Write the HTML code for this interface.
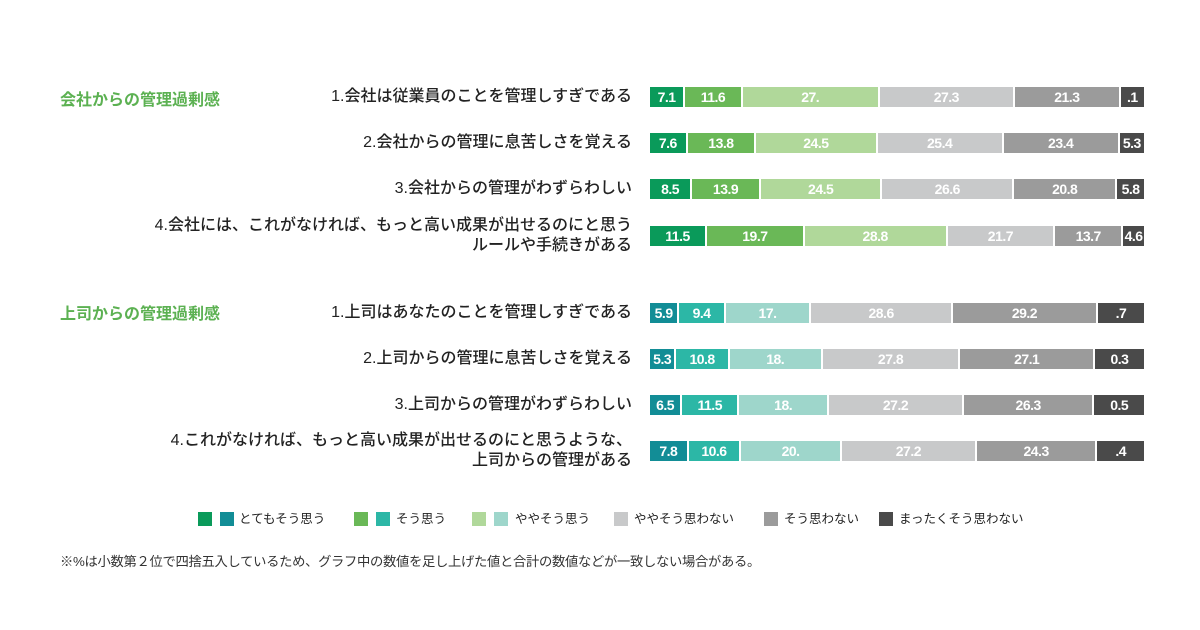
<!DOCTYPE html>
<html><head><meta charset="utf-8">
<style>
body{margin:0;background:#fff;width:1200px;height:630px;overflow:hidden;font-family:"Liberation Sans","Noto Sans CJK JP",sans-serif;}
#root{position:relative;width:1200px;height:630px;}
.h{position:absolute;left:60px;color:#5cb152;font-weight:bold;font-size:16px;}
.lbl{position:absolute;right:568px;text-align:right;font-size:16px;color:#222;font-weight:500;line-height:20px;white-space:nowrap;}
.seg{position:absolute;height:20px;color:#fff;font-weight:bold;font-size:14px;line-height:20px;text-align:center;overflow:hidden;letter-spacing:-0.5px;}
.lg{position:absolute;top:512px;width:14px;height:14px;}
.lt{position:absolute;top:510px;font-size:12.5px;color:#222;line-height:18px;white-space:nowrap;}
.note{position:absolute;left:60px;top:551px;font-size:13.3px;color:#333;white-space:nowrap;letter-spacing:-0.3px;}
</style></head><body>
<div id="root">
<div class="h" style="top:86px">会社からの管理過剰感</div>
<div class="h" style="top:300px">上司からの管理過剰感</div>
<div id="bars"></div>
<div class="lg" style="left:198px;background:#0a9a5a"></div>
<div class="lg" style="left:220px;background:#128d96"></div>
<div class="lt" style="left:239px">とてもそう思う</div>
<div class="lg" style="left:354px;background:#6ab857"></div>
<div class="lg" style="left:376px;background:#2cb7a6"></div>
<div class="lt" style="left:396px">そう思う</div>
<div class="lg" style="left:472px;background:#b0d89a"></div>
<div class="lg" style="left:494px;background:#9ed6cb"></div>
<div class="lt" style="left:515px">ややそう思う</div>
<div class="lg" style="left:614px;background:#c8c9ca"></div>
<div class="lt" style="left:634px">ややそう思わない</div>
<div class="lg" style="left:764px;background:#9b9b9b"></div>
<div class="lt" style="left:784px">そう思わない</div>
<div class="lg" style="left:879px;background:#4a4a4a"></div>
<div class="lt" style="left:899px">まったくそう思わない</div>
<div class="note">※%は小数第２位で四捨五入しているため、グラフ中の数値を足し上げた値と合計の数値などが一致しない場合がある。</div>
</div>
<script>
const questions=["1.会社は従業員のことを管理しすぎである","2.会社からの管理に息苦しさを覚える","3.会社からの管理がわずらわしい","4.会社には、これがなければ、もっと高い成果が出せるのにと思う<br>ルールや手続きがある","1.上司はあなたのことを管理しすぎである","2.上司からの管理に息苦しさを覚える","3.上司からの管理がわずらわしい","4.これがなければ、もっと高い成果が出せるのにと思うような、<br>上司からの管理がある"];
const values=[[7.1,11.6,27.6,27.3,21.3,5.1],[7.6,13.8,24.5,25.4,23.4,5.3],[8.5,13.9,24.5,26.6,20.8,5.8],[11.5,19.7,28.8,21.7,13.7,4.6],[5.9,9.4,17.2,28.6,29.2,9.7],[5.3,10.8,18.7,27.8,27.1,10.3],[6.5,11.5,18.1,27.2,26.3,10.4],[7.8,10.6,20.3,27.2,24.3,9.8]];
const valueLabels=[["7.1","11.6","27.","27.3","21.3",".1"],["7.6","13.8","24.5","25.4","23.4","5.3"],["8.5","13.9","24.5","26.6","20.8","5.8"],["11.5","19.7","28.8","21.7","13.7","4.6"],["5.9","9.4","17.","28.6","29.2",".7"],["5.3","10.8","18.","27.8","27.1","0.3"],["6.5","11.5","18.","27.2","26.3","0.5"],["7.8","10.6","20.","27.2","24.3",".4"]];
const greenColors=["#0a9a5a","#6ab857","#b0d89a","#c8c9ca","#9b9b9b","#4a4a4a"];
const tealColors=["#128d96","#2cb7a6","#9ed6cb","#c8c9ca","#9b9b9b","#4a4a4a"];
const rowY=[87,133,179,226,303,349,395,441];
const X0=650,W=496;
const host=document.getElementById('bars');
function xs(v){return v/100*W;}
values.forEach((row,i)=>{
  const total=row.reduce((a,b)=>a+b,0);
  const lab=document.createElement('div');
  lab.className='lbl';
  
  
  lab.innerHTML=questions[i];
  const multi=questions[i].includes('<br>');
  lab.style.top=(multi?rowY[i]-10:rowY[i])+'px';
  host.appendChild(lab);
  let acc=0;
  row.forEach((v,j)=>{
    const s=document.createElement('div');
    s.className='seg';
    
    
    const x=X0+xs(acc/total*100);
    const w=xs(v/total*100);
    s.style.left=x+'px';
    s.style.width=Math.max(0,w-2)+'px';
    s.style.top=rowY[i]+'px';
    s.style.background=(i<4?greenColors:tealColors)[j];
    s.textContent=valueLabels[i][j];
    host.appendChild(s);
    acc+=v;
  });
});
</script>
</body></html>
